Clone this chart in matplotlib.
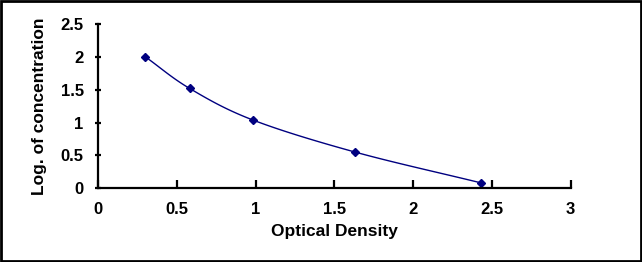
import matplotlib
matplotlib.use("Agg")
import matplotlib.pyplot as plt
from matplotlib.patches import Rectangle
import numpy as np

plt.rcParams['font.family'] = ['Liberation Sans', 'DejaVu Sans']
plt.rcParams['font.weight'] = 'bold'

# Standard curve points
od = [0.30, 0.58, 0.98, 1.63, 2.43]
log_conc = [2.0, 1.52, 1.04, 0.55, 0.08]

x_ticks = [0, 0.5, 1, 1.5, 2, 2.5, 3]
y_ticks = [0, 0.5, 1, 1.5, 2, 2.5]


def smooth(xs, ys, n=30):
    # Catmull-Rom style smoothing between the given points
    p = np.column_stack([xs, ys])
    p = np.vstack([2 * p[0] - p[1], p, 2 * p[-1] - p[-2]])
    out = []
    for i in range(1, len(p) - 2):
        p0, p1, p2, p3 = p[i - 1], p[i], p[i + 1], p[i + 2]
        t = np.linspace(0, 1, n)[:, None]
        seg = 0.5 * ((2 * p1) + (-p0 + p2) * t
                     + (2 * p0 - 5 * p1 + 4 * p2 - p3) * t ** 2
                     + (-p0 + 3 * p1 - 3 * p2 + p3) * t ** 3)
        out.append(seg)
    out = np.vstack(out)
    return out[:, 0], out[:, 1]


fig = plt.figure(figsize=(6.42, 2.62), dpi=100)
ax = fig.add_axes([0.153, 0.282, 0.736, 0.626])

sx, sy = smooth(od, log_conc)
ax.plot(sx, sy, color='#000080', lw=1)
ax.plot(od, log_conc, linestyle='none', marker='D', markersize=4.5, color='#000080')

ax.set_xlim(0, 3)
ax.set_ylim(0, 2.5)
ax.set_xticks(x_ticks)
ax.set_yticks(y_ticks)
ax.set_xticklabels([f"{v:g}" for v in x_ticks], fontweight='bold', fontsize=12)
ax.set_yticklabels([f"{v:g}" for v in y_ticks], fontweight='bold', fontsize=12)

ax.spines['top'].set_visible(False)
ax.spines['right'].set_visible(False)
ax.spines['left'].set_linewidth(1.6)
ax.spines['bottom'].set_linewidth(1.6)
ax.tick_params(axis='x', direction='in', length=6, width=1.6, pad=10)
ax.tick_params(axis='y', direction='inout', length=5, width=1.6, pad=8)

ax.set_xlabel("Optical Density", fontsize=12.5, fontweight='bold', labelpad=5)
ax.set_ylabel("Log. of concentration", fontsize=12.5, fontweight='bold', labelpad=10)

# outer frame
fig.patches.append(Rectangle((0.002, 0.004), 0.996, 0.992, transform=fig.transFigure,
                             fill=False, edgecolor='black', lw=2))

fig.savefig("out.png", dpi=100)
